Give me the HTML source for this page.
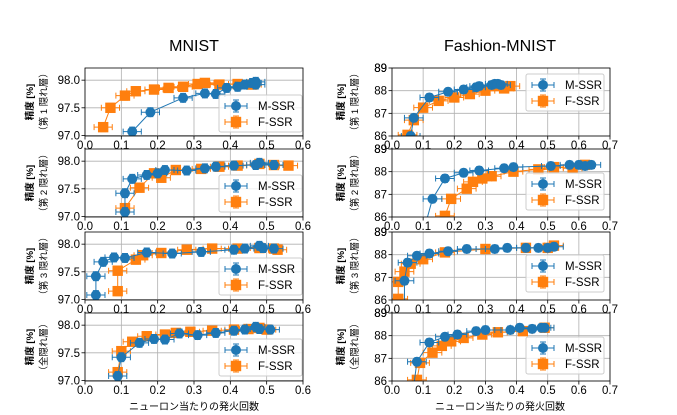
<!DOCTYPE html>
<html><head><meta charset="utf-8"><style>
body{margin:0;background:#fff;}
svg{display:block;font-family:"Liberation Sans","Noto Sans CJK JP",sans-serif;}
</style></head><body>
<svg id="c" width="677" height="415" viewBox="0 0 677 415">
<text x="194" y="51" font-size="16" text-anchor="middle">MNIST</text>
<text x="500" y="51" font-size="16" text-anchor="middle">Fashion-MNIST</text>
<text x="194" y="410" font-size="10" text-anchor="middle">ニューロン当たりの発火回数</text>
<text x="500" y="410" font-size="10" text-anchor="middle">ニューロン当たりの発火回数</text>
</svg>
<script>
const layerLabels = ["（第 1 隠れ層）","（第 2 隠れ層）","（第 3 隠れ層）","（全隠れ層）"];
const mnistYTicks = [97.0, 97.5, 98.0];
const mnistYLabels = ["97.0","97.5","98.0"];
const mnistXTicks = [0,0.1,0.2,0.3,0.4,0.5,0.6];
const fashionYTicks = [86,87,88,89];
const fashionXTicks = [0,0.1,0.2,0.3,0.4,0.5,0.6,0.7];
// MNIST M-SSR / F-SSR per layer
const mM1x=[0.13,0.18,0.27,0.33,0.36,0.39,0.42,0.44,0.46,0.47,0.47];
const mM1y=[97.07,97.42,97.68,97.76,97.75,97.86,97.88,97.92,97.95,97.97,97.92];
const mF1x=[0.05,0.07,0.11,0.14,0.19,0.23,0.27,0.31,0.33,0.37,0.42,0.46];
const mF1y=[97.15,97.5,97.72,97.8,97.83,97.86,97.88,97.93,97.95,97.92,97.93,97.92];
const mM2x=[0.11,0.11,0.13,0.17,0.2,0.22,0.28,0.33,0.36,0.41,0.47,0.48,0.52];
const mM2y=[97.08,97.42,97.68,97.75,97.78,97.84,97.83,97.87,97.9,97.92,97.93,97.97,97.93];
const mF2x=[0.11,0.15,0.19,0.21,0.25,0.32,0.37,0.42,0.48,0.52,0.56];
const mF2y=[97.15,97.52,97.78,97.7,97.84,97.86,97.9,97.92,97.95,97.93,97.92];
const mM3x=[0.03,0.03,0.05,0.08,0.11,0.17,0.24,0.32,0.41,0.44,0.48,0.49,0.52];
const mM3y=[97.08,97.42,97.68,97.76,97.75,97.85,97.83,97.86,97.9,97.92,97.97,97.93,97.92];
const mF3x=[0.09,0.09,0.14,0.16,0.21,0.28,0.35,0.42,0.48,0.52,0.53];
const mF3y=[97.15,97.52,97.72,97.8,97.84,97.9,97.92,97.92,97.93,97.92,97.9];
const mM4x=[0.09,0.1,0.15,0.19,0.22,0.26,0.31,0.36,0.41,0.44,0.47,0.48,0.51];
const mM4y=[97.08,97.42,97.68,97.75,97.74,97.85,97.82,97.86,97.9,97.92,97.97,97.93,97.92];
const mF4x=[0.09,0.1,0.13,0.17,0.22,0.25,0.29,0.35,0.41,0.45,0.48,0.5];
const mF4y=[97.15,97.53,97.7,97.8,97.83,97.86,97.88,97.9,97.92,97.93,97.95,97.92];
// Fashion-MNIST
const fM1x=[0.06,0.07,0.12,0.18,0.23,0.27,0.28,0.32,0.33,0.34,0.35];
const fM1y=[86.0,86.8,87.7,87.95,88.05,88.15,88.2,88.25,88.3,88.3,88.25];
const fF1x=[0.05,0.07,0.1,0.15,0.2,0.25,0.3,0.33,0.36,0.38];
const fF1y=[86.05,86.7,87.25,87.55,87.7,87.85,88.0,88.2,88.1,88.2];
const fM2x=[0.11,0.13,0.17,0.23,0.28,0.36,0.39,0.51,0.57,0.6,0.62,0.64];
const fM2y=[85.8,86.8,87.7,87.95,88.05,88.15,88.2,88.25,88.3,88.3,88.25,88.3];
const fF2x=[0.17,0.19,0.24,0.26,0.29,0.32,0.39,0.47,0.52,0.58,0.62];
const fF2y=[86.05,86.8,87.25,87.55,87.7,87.8,88.0,88.1,88.2,88.15,88.3];
const fM3x=[0.04,0.04,0.05,0.08,0.12,0.18,0.24,0.33,0.37,0.43,0.47,0.5,0.52];
const fM3y=[85.8,86.85,87.65,87.95,88.05,88.15,88.25,88.25,88.3,88.3,88.3,88.3,88.35];
const fF3x=[0.02,0.02,0.04,0.06,0.1,0.17,0.3,0.43,0.5,0.52];
const fF3y=[86.05,86.8,87.25,87.6,87.8,88.1,88.25,88.3,88.3,88.4];
const fM4x=[0.07,0.08,0.12,0.17,0.21,0.27,0.3,0.38,0.41,0.45,0.48,0.49];
const fM4y=[85.8,86.85,87.7,87.95,88.05,88.2,88.25,88.25,88.35,88.3,88.35,88.35];
const fF4x=[0.08,0.09,0.13,0.16,0.19,0.23,0.29,0.34,0.42,0.49];
const fF4y=[86.05,86.8,87.25,87.55,87.75,87.9,88.05,88.15,88.2,88.35];
const mXerr=0.025, mYerr=0.08, fXerr=0.03, fYerr=0.17;

const NS="http://www.w3.org/2000/svg";
const svg=document.getElementById('c');
function el(t,a,p){const e=document.createElementNS(NS,t);for(const k in a)e.setAttribute(k,a[k]);(p||svg).appendChild(e);return e;}
const tops=[68,149,232,313], H=68;
const C1="#1f77b4", C2="#ff7f0e";
const R=5, SQ=5.2;
const panels=[
 {x0:85,x1:303,xmax:0.6,ymin:96.99,ymax:98.22,yt:mnistYTicks,yl:mnistYLabels,xt:mnistXTicks,xe:mXerr,ye:mYerr,
  series:[[mM1x,mM1y,mF1x,mF1y],[mM2x,mM2y,mF2x,mF2y],[mM3x,mM3y,mF3x,mF3y],[mM4x,mM4y,mF4x,mF4y]],lab:29,leg:[[219,95],[219,175],[219,258],[219,339]],legW:83,key:'mnist'},
 {x0:392,x1:610,xmax:0.7,ymin:86,ymax:89,yt:fashionYTicks,yl:fashionYTicks.map(String),xt:fashionXTicks,xe:fXerr,ye:fYerr,
  series:[[fM1x,fM1y,fF1x,fF1y],[fM2x,fM2y,fF2x,fF2y],[fM3x,fM3y,fF3x,fF3y],[fM4x,fM4y,fF4x,fF4y]],lab:340,leg:[[526,74],[526,173],[526,255],[526,337]],legW:78,key:'fashion'}
];
panels.forEach((P,pi)=>{
 tops.forEach((top,li)=>{
  const bot=top+H;
  const sx=v=>P.x0+v/P.xmax*(P.x1-P.x0);
  const sy=v=>bot-(v-P.ymin)/(P.ymax-P.ymin)*H;
  const g=el('g',{});
  
  
  const cid='clip'+pi+li;
  const cp=el('clipPath',{id:cid},g);el('rect',{x:P.x0,y:top,width:P.x1-P.x0,height:H},cp);
  P.xt.forEach(t=>{const x=sx(t);el('line',{x1:x,x2:x,y1:top,y2:bot,stroke:'#b0b0b0','stroke-width':0.8},g);
   el('line',{x1:x,x2:x,y1:bot,y2:bot+3.5,stroke:'#000','stroke-width':0.8},g);
   const tx=el('text',{x:x,y:bot+13,'font-size':11.5,'text-anchor':'middle'},g);tx.textContent=t.toFixed(1);
   
   });
  P.yt.forEach((t,i)=>{const y=sy(t);if(y<top-0.5)return;
   el('line',{x1:P.x0,x2:P.x1,y1:y,y2:y,stroke:'#b0b0b0','stroke-width':0.8},g);
   el('line',{x1:P.x0-3.5,x2:P.x0,y1:y,y2:y,stroke:'#000','stroke-width':0.8},g);
   const tx=el('text',{x:P.x0-5,y:y+4,'font-size':11.5,'text-anchor':'end'},g);tx.textContent=P.yl[i];
   
   });
  if(pi===1){const tx=el('text',{x:P.x0-5,y:top+4,'font-size':11.5,'text-anchor':'end'},g);tx.textContent='89';}
  const d=el('g',{'clip-path':'url(#'+cid+')'},g);
  const S=P.series[li];
  [[S[2],S[3],C2,'sq'],[S[0],S[1],C1,'ci']].forEach(([xs,ys,c,m])=>{
   const sg=el('g',{},d);
   
   
   el('polyline',{points:xs.map((v,i)=>sx(v)+','+sy(ys[i])).join(' '),fill:'none',stroke:c,'stroke-width':1},sg);
   xs.forEach((v,i)=>{const x=sx(v),y=sy(ys[i]);
    const x1=sx(v-P.xe),x2=sx(v+P.xe),y1=sy(ys[i]-P.ye),y2=sy(ys[i]+P.ye);
    el('path',{d:`M${x1},${y}H${x2}M${x1},${y-3}V${y+3}M${x2},${y-3}V${y+3}M${x},${y1}V${y2}M${x-3},${y1}H${x+3}M${x-3},${y2}H${x+3}`,stroke:c,'stroke-width':1,fill:'none'},sg);
    if(m==='ci')el('circle',{cx:x,cy:y,r:R,fill:c},sg);else el('rect',{x:x-SQ,y:y-SQ,width:2*SQ,height:2*SQ,fill:c},sg);});
  });
  el('rect',{x:P.x0,y:top,width:P.x1-P.x0,height:H,fill:'none',stroke:'#000','stroke-width':0.8},g);
  const [lx,ly]=P.leg[li];
  const lg=el('g',{},g);
  
  
  el('rect',{x:lx,y:ly,width:P.legW,height:37,rx:2,fill:'#fff','fill-opacity':0.8,stroke:'#ccc'},lg);
  [[C1,'M-SSR','ci',ly+11],[C2,'F-SSR','sq',ly+27]].forEach(([c,t,m,y])=>{
   const cx=lx+17;
   el('path',{d:`M${cx-11},${y}H${cx+11}M${cx-11},${y-3}V${y+3}M${cx+11},${y-3}V${y+3}M${cx},${y-6}V${y+6}M${cx-3},${y-6}H${cx+3}M${cx-3},${y+6}H${cx+3}`,stroke:c,'stroke-width':1},lg);
   if(m==='ci')el('circle',{cx:cx,cy:y,r:R,fill:c},lg);else el('rect',{x:cx-SQ,y:y-SQ,width:2*SQ,height:2*SQ,fill:c},lg);
   const tx=el('text',{x:lx+39,y:y+4,'font-size':11.5},lg);tx.textContent=t;
   
   });
  const cy=top+H/2;
  const t1=el('text',{x:0,y:0,'font-size':9.5,'font-weight':'bold','text-anchor':'middle',transform:`translate(${P.lab+4},${cy}) rotate(-90)`},g);t1.textContent='精度 [%]';
  
  
  const t2=el('text',{x:0,y:0,'font-size':9.5,'text-anchor':'middle',transform:`translate(${P.lab+18},${cy}) rotate(-90)`},g);t2.textContent=layerLabels[li];
  
  
 });
});
</script>
</body></html>
